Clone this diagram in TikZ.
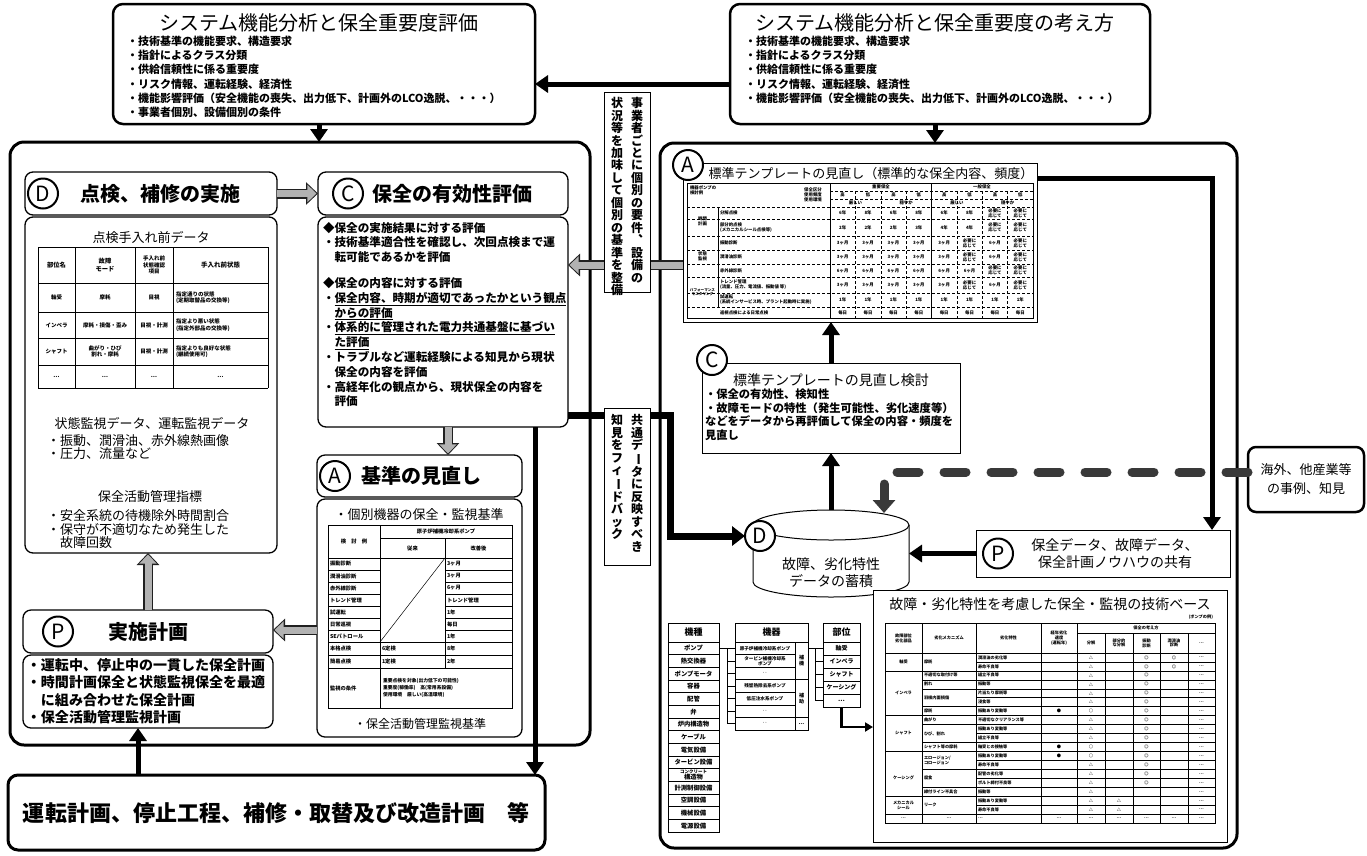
\documentclass[tikz,border=0pt]{standalone}
\usepackage{fontspec}
\usepackage{graphicx}
\setmainfont{Noto Sans CJK JP}
\usetikzlibrary{arrows.meta}
\newcommand\fs[2]{\fontsize{#1}{#2}\selectfont}
\makeatletter
\newcommand\vtxt[1]{\vbox{\offinterlineskip\@tfor\vch:=#1\do{\hbox to 1em{\hss\vrule height .88em depth .12em width 0pt\vch\hss}\kern .04em}}}
\makeatother
\newcommand\vlong{\rotatebox[origin=c]{-90}{ー}}
\newcommand\vcom{︑}
\newcommand\hy{必要に\\応じて}
\begin{document}
\begin{tikzpicture}[x=1pt,y=-1pt,
  every node/.style={inner sep=0pt,outer sep=0pt},
  panel/.style={draw,line width=3pt,rounded corners=14pt},
  rbox/.style={draw,line width=1.3pt,rounded corners=8pt,fill=white},
  sbox/.style={draw,line width=0.8pt,fill=white},
  circ/.style={circle,draw,line width=2pt,fill=white,minimum size=30pt,font=\fs{21}{21}},
  blk/.style={line width=5pt,-{Triangle[width=17pt,length=13pt]}},
  gry/.style={line width=7pt,draw=gray!60,shorten >=1.6pt,-{Triangle[width=17pt,length=9pt]},
    preaction={draw=gray!25!black,line width=10pt,shorten >=0pt,-{Triangle[width=22pt,length=12pt]}}},
  tb/.style={line width=0.5pt},
  hd/.style={font=\bfseries\fs{20}{20}},
  vt/.style={anchor=north,font=\bfseries\fs{12}{12}},
  dtc/.style={font=\bfseries\fs{5.5}{6.5},align=center},
  atc/.style={font=\bfseries\fs{5.3}{6.3},align=center},
  ttc/.style={font=\bfseries\fs{4.4}{5},align=center},
  kc/.style={font=\bfseries\fs{4.2}{4.8},align=center}
]
\useasboundingbox (0,0) rectangle (1367,855);
\fill[white] (0,0) rectangle (1367,855);

% ---------- panels
\node[panel,minimum width=580pt,minimum height=603pt,anchor=north west] (lp) at (10,142) {};
\node[panel,minimum width=577pt,minimum height=705pt,anchor=north west] (rp) at (660,143) {};

% ---------- top boxes
\node[rbox,line width=2.5pt,rounded corners=10pt,minimum width=422pt,minimum height=120pt,anchor=north west] (tl) at (113,4) {};
\node[font=\fs{20}{20}] (tlt) at (319,23) {システム機能分析と保全重要度評価};
\node[anchor=north west,align=left,font=\bfseries\fs{11}{14.2}] (tlb) at (127,36) {・技術基準の機能要求、構造要求\\・指針によるクラス分類\\・供給信頼性に係る重要度\\・リスク情報、運転経験、経済性\\・機能影響評価（安全機能の喪失、出力低下、計画外のLCO逸脱、・・・）\\・事業者個別、設備個別の条件};

\node[rbox,line width=2.5pt,rounded corners=10pt,minimum width=420pt,minimum height=120pt,anchor=north west] (tr) at (730,4) {};
\node[font=\fs{20}{20}] (trt) at (935,23) {システム機能分析と保全重要度の考え方};
\node[anchor=north west,align=left,font=\bfseries\fs{11}{14.2}] (trb) at (745,36) {・技術基準の機能要求、構造要求\\・指針によるクラス分類\\・供給信頼性に係る重要度\\・リスク情報、運転経験、経済性\\・機能影響評価（安全機能の喪失、出力低下、計画外のLCO逸脱、・・・）};

\draw[blk] ([yshift=-20pt]tr.west) -- ([yshift=-20pt]tl.east);
\draw[blk] ([xshift=-5pt]tl.south) -- ([xshift=-5pt]tl.south |- lp.north);
\draw[blk] ([xshift=-5pt]tr.south) -- ([xshift=-5pt]tr.south |- rp.north);

% ---------- D box
\node[rbox,minimum width=252pt,minimum height=43pt,anchor=north west] (dh) at (25,172) {};
\node[circ] (cD) at (43,193.5) {D};
\node[hd] (dht) at (160,193.5) {点検、補修の実施};
\node[rbox,minimum width=252pt,minimum height=336pt,anchor=north west] (dc) at (25,217) {};
\node[font=\fs{13}{13}] (dct1) at (151,238) {点検手入れ前データ};
\foreach \yy in {247,283,312,338,365,388} \draw[tb] (38,\yy) -- (268,\yy);
\foreach \xx in {38,75,135,173,268} \draw[tb] (\xx,247) -- (\xx,388);
\node[dtc,font=\bfseries\fs{6.3}{7.5}] (d11) at (56.5,265) {部位名};
\node[dtc,font=\bfseries\fs{6.3}{7.5}] (d12) at (105,265) {故障\\モード};
\node[dtc] (d13) at (154,265) {手入れ前\\状態確認\\項目};
\node[dtc,font=\bfseries\fs{6.5}{7.5}] (d14) at (220.5,265) {手入れ前状態};
\node[dtc] (d21) at (56.5,297.5) {軸受};
\node[dtc] (d22) at (105,297.5) {摩耗};
\node[dtc] (d23) at (154,297.5) {目視};
\node[dtc,align=left,anchor=west] (d24) at (176,297.5) {指定通りの状態\\(定期取替品の交換等)};
\node[dtc] (d31) at (56.5,325) {インペラ};
\node[dtc] (d32) at (105,325) {摩耗・損傷・歪み};
\node[dtc] (d33) at (154,325) {目視・計測};
\node[dtc,align=left,anchor=west] (d34) at (176,325) {指定より悪い状態\\(指定外部品の交換等)};
\node[dtc] (d41) at (56.5,351.5) {シャフト};
\node[dtc] (d42) at (105,351.5) {曲がり・ひび\\割れ・摩耗};
\node[dtc] (d43) at (154,351.5) {目視・計測};
\node[dtc,align=left,anchor=west] (d44) at (176,351.5) {指定よりも良好な状態\\(継続使用可)};
\foreach \xx [count=\i] in {56.5,105,154,220.5} \node[dtc] (d5\i) at (\xx,376.5) {…};
\node[font=\fs{13}{13}] (dct2) at (152,423) {状態監視データ、運転監視データ};
\node[anchor=north west,align=left,font=\fs{13}{13}] (dct3) at (47,435) {・振動、潤滑油、赤外線熱画像\\・圧力、流量など};
\node[font=\fs{13}{13}] (dct4) at (150,497) {保全活動管理指標};
\node[anchor=north west,align=left,font=\fs{13}{13.5}] (dct5) at (47,510) {・安全系統の待機除外時間割合\\・保守が不適切なため発生した\\　故障回数};

% ---------- C box
\node[rbox,minimum width=250pt,minimum height=43pt,anchor=north west] (ch) at (318,172) {};
\node[circ] (cC) at (348,193.5) {C};
\node[hd] (cht) at (452,193.5) {保全の有効性評価};
\node[rbox,minimum width=250pt,minimum height=210pt,anchor=north west] (cc) at (318,217) {};
\node[anchor=north west,align=left,font=\bfseries\fs{11.6}{14.8}] (cct) at (323,222) {◆保全の実施結果に対する評価\\・技術基準適合性を確認し、次回点検まで運\\　転可能であるかを評価\\[11pt]◆保全の内容に対する評価\\・\underline{保全内容、時期が適切であったかという観点}\\　\underline{からの評価}\\・\underline{体系的に管理された電力共通基盤に基づい}\\　\underline{た評価}\\・トラブルなど運転経験による知見から現状\\　保全の内容を評価\\・高経年化の観点から、現状保全の内容を\\　評価};

% ---------- A box (left)
\node[rbox,minimum width=205pt,minimum height=42pt,anchor=north west] (ah) at (317,455) {};
\node[circ] (cA) at (335,476) {A};
\node[hd] (aht) at (421,476) {基準の見直し};
\node[rbox,minimum width=205pt,minimum height=238pt,anchor=north west] (ac) at (317,499) {};
\node[font=\fs{13}{13}] (act1) at (419,515) {・個別機器の保全・監視基準};
\draw[tb] (328,525) rectangle (512,708);
\draw[tb] (380,525) -- (380,708);
\draw[tb] (445,538) -- (445,668);
\draw[tb] (380,538) -- (512,538);
\draw[tb] (328,558) -- (512,558);
\foreach \yy in {570,582,594,606,618,630} {\draw[tb] (328,\yy) -- (380,\yy); \draw[tb] (445,\yy) -- (512,\yy);}
\foreach \yy in {642,655,668} \draw[tb] (328,\yy) -- (512,\yy);
\draw[tb] (380,642) -- (445,558);
\node[atc] (a01) at (354,541.5) {検　討　例};
\node[atc] (a02) at (446,531.5) {原子炉補機冷却系ポンプ};
\node[atc] (a03) at (412.5,548) {従来};
\node[atc] (a04) at (478.5,548) {改善後};
\foreach \lab/\val [count=\i] in {振動診断/3ヶ月,潤滑油診断/3ヶ月,赤外線診断/6ヶ月,トレンド管理/トレンド管理,試運転/1年,日常巡視/毎日,SEパトロール/1年} {
  \node[atc,anchor=west] (al\i) at (330,{558+(\i-.5)*12}) {\lab};
  \node[atc,anchor=west] (av\i) at (447,{558+(\i-.5)*12}) {\val};
}
\node[atc,anchor=west] (al8) at (330,648.5) {本格点検};
\node[atc,anchor=west] (aw8) at (382,648.5) {6定検};
\node[atc,anchor=west] (av8) at (447,648.5) {8年};
\node[atc,anchor=west] (al9) at (330,661.5) {簡易点検};
\node[atc,anchor=west] (aw9) at (382,661.5) {1定検};
\node[atc,anchor=west] (av9) at (447,661.5) {2年};
\node[atc,anchor=west] (al10) at (330,688) {監視の条件};
\node[atc,anchor=west,align=left,font=\bfseries\fs{4.8}{7}] (av10) at (383,688) {重要点検を対象(出力低下の可能性)\\重要度(稼働率)　高(常用系設備)\\使用環境　厳しい(高温環境)};
\node[font=\fs{12}{12}] (act2) at (420,724) {・保全活動管理監視基準};

% ---------- P box (left)
\node[rbox,minimum width=250pt,minimum height=43pt,anchor=north west] (ph) at (23,610) {};
\node[circ] (cP) at (58,631.5) {P};
\node[hd] (pht) at (148,631.5) {実施計画};
\node[rbox,minimum width=250pt,minimum height=73pt,anchor=north west] (pc) at (23,655) {};
\node[anchor=north west,align=left,font=\bfseries\fs{14}{17.5}] (pct) at (27,658) {・運転中、停止中の一貫した保全計画\\・時間計画保全と状態監視保全を最適\\　に組み合わせた保全計画\\・保全活動管理監視計画};

% gray arrows (left)
\draw[gry] (dh.east) -- (ch.west);
\draw[gry] ([xshift=5pt]cc.south) -- ([xshift=28.5pt]ah.north);
\draw[gry] ([yshift=-12pt]ac.west) -- ([yshift=1.5pt]ph.east);
\draw[gry] (ph.north) -- (ph.north |- dc.south);

% ---------- bottom box
\node[rbox,line width=3pt,rounded corners=10pt,minimum width=537pt,minimum height=75pt,anchor=north west] (bb) at (8,775) {};
\node[font=\bfseries\fs{22}{22}] (bbt) at (276,813) {運転計画、停止工程、補修・取替及び改造計画　等};
\draw[blk] ([xshift=-138.5pt]bb.north) -- ([xshift=-10pt]pc.south);
\draw[blk] ([xshift=92pt]cc.south) -- ([xshift=258.5pt]bb.north);

% ---------- right: template A
\node[sbox,minimum width=354pt,minimum height=159pt,anchor=north west] (ra) at (683,163) {};
\node[font=\fs{13}{13}] (rat) at (871,174) {標準テンプレートの見直し（標準的な保全内容、頻度）};
\node[circ] (rA) at (688,165) {A};
\draw[tb] (687,183) rectangle (1033,318);
\foreach \yy in {207,219,236,250,264,277,293,307} \draw[tb,densely dashed] (687,\yy) -- (1033,\yy);
\draw[line width=0.8pt] (830,183) -- (830,318);
\draw[line width=0.8pt] (931.5,183) -- (931.5,318);
\draw[tb] (718,207) -- (718,307);
\foreach \i in {1,2,3,5,6,7} \draw[tb,densely dashed] ({830+25.375*\i},191) -- ({830+25.375*\i},318);
\draw[tb,densely dashed] (830,191) -- (1033,191);
\draw[tb,densely dashed] (830,199) -- (1033,199);
\node[ttc,anchor=north west,align=left] (tt01) at (690,186) {機器ポンプの\\検討例};
\node[ttc,align=left] (tt02) at (813,195) {保全区分\\使用頻度\\使用環境};
\node[ttc] (tt03) at (881,187) {重要保全};
\node[ttc] (tt04) at (982,187) {一般保全};
\foreach \i in {1,...,8} {\pgfmathsetmacro\hl{mod(\i,2)==1?1:0}
  \node[ttc] (tth\i) at ({830+25.375*(\i-.5)},195) {\ifnum\hl=1 高\else 低\fi};}
\node[ttc] (tt05) at (855.4,203) {厳しい};
\node[ttc] (tt06) at (906.1,203) {穏やか};
\node[ttc] (tt07) at (956.9,203) {厳しい};
\node[ttc] (tt08) at (1007.6,203) {穏やか};
\node[ttc] (tt09) at (702.5,221.5) {時間\\計画};
\node[ttc] (tt10) at (702.5,256.5) {状態\\監視};
\node[ttc,font=\bfseries\fs{3.6}{4.2}] (tt11) at (702.5,292) {パフォーマンス\\モニタリング};
\foreach \lab/\yy [count=\i] in {分解点検/213,{部分的点検\\(メカニカルシール点検等)}/227.5,振動診断/243,潤滑油診断/257,赤外線診断/270.5,{トレンド管理\\(流量、圧力、電流値、振動値 等)}/285,{試運転\\(系統インサービス時、プラント起動時に実施)}/300,巡視点検による日常点検/312.5}
  \node[ttc,anchor=west,align=left] (ttl\i) at (720,\yy) {\lab};
\foreach \v [count=\i] in {6年,8年,6年,8年,6年,8年,\hy,\hy} \node[ttc] (ta\i) at ({830+25.375*(\i-.5)},213) {\v};
\foreach \v [count=\i] in {2年,2年,2年,3年,4年,4年,\hy,\hy} \node[ttc] (tb\i) at ({830+25.375*(\i-.5)},227.5) {\v};
\foreach \v [count=\i] in {3ヶ月,3ヶ月,3ヶ月,3ヶ月,3ヶ月,\hy,6ヶ月,\hy} \node[ttc] (tc\i) at ({830+25.375*(\i-.5)},243) {\v};
\foreach \v [count=\i] in {3ヶ月,3ヶ月,3ヶ月,3ヶ月,3ヶ月,\hy,6ヶ月,\hy} \node[ttc] (td\i) at ({830+25.375*(\i-.5)},257) {\v};
\foreach \v [count=\i] in {6ヶ月,6ヶ月,6ヶ月,6ヶ月,6ヶ月,6ヶ月,\hy,\hy} \node[ttc] (te\i) at ({830+25.375*(\i-.5)},270.5) {\v};
\foreach \v [count=\i] in {3ヶ月,3ヶ月,3ヶ月,3ヶ月,3ヶ月,\hy,6ヶ月,\hy} \node[ttc] (tf\i) at ({830+25.375*(\i-.5)},285) {\v};
\foreach \i in {1,...,8} \node[ttc] (tg\i) at ({830+25.375*(\i-.5)},300) {1年};
\foreach \i in {1,...,8} \node[ttc] (th\i) at ({830+25.375*(\i-.5)},312.5) {毎日};

% gray arrow A -> C(left)
\draw[gry] ([yshift=-22.5pt]ra.west) -- ([yshift=57pt]cc.east);

% ---------- right: C box
\node[sbox,minimum width=258pt,minimum height=90pt,anchor=north west] (rc) at (702,363) {};
\node[circ] (rC) at (712,360) {C};
\node[font=\fs{14}{14}] (rct) at (831,380) {標準テンプレートの見直し検討};
\node[anchor=north west,align=left,font=\bfseries\fs{11.3}{13.5}] (rcb) at (705,389) {・保全の有効性、検知性\\・故障モードの特性（発生可能性、劣化速度等）\\などをデータから再評価して保全の内容・頻度を\\見直し};
\draw[blk] (rc.north) -- (rc.north |- ra.south);

% ---------- cylinder D
\coordinate (cyltop) at (831,510);
\coordinate (cylr) at (909,553.5);
\coordinate (cyld) at (884,513);
\fill[white] (753,525) -- (753,582) arc[start angle=180,end angle=360,x radius=78pt,y radius=15pt] -- (909,525) -- cycle;
\draw[line width=1pt] (753,525) -- (753,582) arc[start angle=180,end angle=360,x radius=78pt,y radius=15pt] -- (909,525);
\draw[line width=1pt,fill=white] (831,525) ellipse[x radius=78pt,y radius=15pt];
\node[align=center,font=\fs{14}{17}] (cyl) at (831,573) {故障、劣化特性\\データの蓄積};
\node[circ] (rD) at (760,536) {D};
\draw[blk] (cyltop) -- (rc.south);

% ---------- right: P box
\node[sbox,minimum width=254pt,minimum height=47pt,anchor=north west] (prb) at (976,530) {};
\node[circ] (rP) at (998,553.5) {P};
\node[align=center,font=\fs{14}{17}] (prt) at (1115,553.5) {保全データ、故障データ、\\保全計画ノウハウの共有};
\draw[blk] (prb.west) -- (cylr);

% ---------- 海外 box
\node[rbox,line width=2.5pt,minimum width=116pt,minimum height=65pt,anchor=north west] (kb) at (1248,447) {};
\node[align=center,font=\fs{13}{19}] (kbt) at (1306,479.5) {海外、他産業等\\の事例、知見};

% thick arrow A -> P
\draw[blk] ([yshift=64.5pt]ra.east) -| ([xshift=109pt]prb.north);

% dashed from 海外
\coordinate (dend) at (884,497);
\draw[line width=9pt,gray!45!black,line cap=round,dash pattern=on 22pt off 25pt] ([yshift=7.5pt]kb.west) -| (dend);
\draw[line width=9pt,gray!45!black,-{Triangle[width=22pt,length=13pt]}] (dend) -- (cyld);

% feedback line
\coordinate (fb1) at (670,536);
\draw[line width=7pt,-{Triangle[width=19pt,length=13pt]}] ([yshift=-93pt]cc.east) -| (fb1) -- (rD.west);

% ---------- vertical text boxes
\node[sbox,minimum width=46pt,minimum height=200pt,anchor=north west] (vb1) at (604,92) {};
\node[vt] (v1r) at (637,97) {\vtxt{事業者ごとに個別の要件\vcom 設備の}};
\node[vt] (v1l) at (617,97) {\vtxt{状況等を加味して個別の基準を整備}};
\node[sbox,minimum width=46pt,minimum height=157pt,anchor=north west] (vb2) at (604,408) {};
\node[vt] (v2r) at (637,414) {\vtxt{共通デ\vlong タに反映すべき}};
\node[vt] (v2l) at (617,414) {\vtxt{知見をフィ\vlong ドバック}};

% ---------- 技術ベース box
\node[sbox,minimum width=354pt,minimum height=252pt,anchor=north west] (tk) at (873,590) {};
\node[font=\fs{14}{14}] (tkt) at (1050,604) {故障・劣化特性を考慮した保全・監視の技術ベース};
\node[kc,anchor=east] (tks) at (1213,617) {(ポンプの例)};
\draw[tb] (885,623) rectangle (1215,823);
\foreach \xx in {922,976,1041,1077} \draw[tb] (\xx,623) -- (\xx,823);
\foreach \xx in {1105,1133,1160,1188} \draw[tb] (\xx,633) -- (\xx,823);
\draw[tb] (1077,633) -- (1215,633);
\draw[line width=0.8pt] (885,653) -- (1215,653);
\foreach \i in {1,...,18} \draw[tb] (976,{653+\i*8.947}) -- (1215,{653+\i*8.947});
\foreach \i in {2,3,4,6,7,8,10,11,13,15,16,18} \draw[tb] (922,{653+\i*8.947}) -- (976,{653+\i*8.947});
\foreach \i in {2,7,11,16,18} \draw[tb] (885,{653+\i*8.947}) -- (922,{653+\i*8.947});
\node[kc] (kh1) at (903.5,638) {故障部位\\劣化部品};
\node[kc] (kh2) at (949,638) {劣化メカニズム};
\node[kc] (kh3) at (1008.5,638) {劣化特性};
\node[kc] (kh4) at (1059,638) {経年劣化\\速度\\(運転年)};
\node[kc] (kh5) at (1146,628) {保全の考え方};
\node[kc] (kh6) at (1091,643) {分解};
\node[kc] (kh7) at (1119,643) {部分的\\な分解};
\node[kc] (kh8) at (1146.5,643) {振動\\診断};
\node[kc] (kh9) at (1174,643) {潤滑油\\診断};
\node[kc] (kh10) at (1201.5,643) {…};
\foreach \i/\t/\a/\b/\c/\d/\e in {1/潤滑油の劣化等//△//◎/◎,2/寿命不良等//△//◎/◎,3/組立不良等//△//◎/,4/振動等//△//◎/,5/片当たり摩耗等//△//◎/,6/浸食等//△//◎/,7/振動あり変動等/●/○//◎/,8/不適切なクリアランス等//△//◎/,9/振動あり変動等//△//◎/,10/組立不良等//△//◎/,11/軸受との接触等/●/○//◎/,12/振動あり変動等/●/○//◎/,13/寿命不良等//△//◎/,14/配管の劣化等//△//◎/,15/ボルト締付不良等//△//◎/,16/振動等//△///,17/振動あり変動等//△/△//,18/寿命不良等//△/△//,19/…/…/…/…/…/…} {
  \node[kc,anchor=west] (kt\i) at (978,{653+(\i-.5)*8.947}) {\t};
  \node[kc] (ka\i) at (1059,{653+(\i-.5)*8.947}) {\a};
  \node[kc] (kb\i) at (1091,{653+(\i-.5)*8.947}) {\b};
  \node[kc] (kcc\i) at (1119,{653+(\i-.5)*8.947}) {\c};
  \node[kc] (kd\i) at (1146.5,{653+(\i-.5)*8.947}) {\d};
  \node[kc] (ke\i) at (1174,{653+(\i-.5)*8.947}) {\e};
  \node[kc] (kf\i) at (1201.5,{653+(\i-.5)*8.947}) {…};
}
\foreach \t/\r [count=\i] in {軸受/1,インペラ/4.5,シャフト/9,ケーシング/14,{メカニカル\\シール}/17,…/18.5}
  \node[kc] (kp\i) at (903.5,{653+\r*8.947}) {\t};
\foreach \t/\r [count=\i] in {摩耗/1,不適切な取付け等/2.5,割れ/3.5,羽根内面損傷/5,摩耗/6.5,曲がり/7.5,ひび、割れ/9,シャフト等の摩耗/10.5,{エロージョン/\\コロージョン}/12,腐食/14,締付ライン不具合/15.5,リーク/17}
  \node[kc,anchor=west,align=left] (km\i) at (924,{653+\r*8.947}) {\t};
\node[kc] (km13) at (949,{653+18.5*8.947}) {…};

% ---------- 機種 / 機器 / 部位
\node[draw,line width=0.8pt,minimum width=51pt,minimum height=209pt,anchor=north west] (ksh) at (668,623) {};
\node[font=\bfseries\fs{9}{9}] (ksht) at (693.5,632.5) {機種};
\foreach \n [count=\i] in {ポンプ,熱交換器,ポンプモータ,容器,配管,弁,炉内構造物,ケーブル,電気設備,タービン設備,{\fs{4.5}{5}コンクリート\\構造物},計測制御設備,空調設備,機械設備,電源設備} {
  \draw[tb] (668,{642+(\i-1)*12.67}) -- (719,{642+(\i-1)*12.67});
  \node[font=\bfseries\fs{6.3}{6.3},align=center] (ks\i) at (693.5,{642+(\i-.5)*12.67}) {\n};
}
\node[draw,line width=0.8pt,minimum width=73pt,minimum height=107pt,anchor=north west] (kki) at (735,623) {};
\node[font=\bfseries\fs{9}{9}] (kkit) at (771.5,632.5) {機器};
\draw[tb] (735,642) -- (808,642);
\draw[tb] (795,642) -- (795,730);
\foreach \n [count=\i] in {原子炉補機冷却系ポンプ,{タービン補機冷却系\\ポンプ},‥,残留熱除去系ポンプ,低圧注水系ポンプ,‥,‥} {
  \draw[tb] (735,{642+(\i-1)*12.57}) -- (795,{642+(\i-1)*12.57});
  \node[font=\bfseries\fs{4.6}{5},align=center] (kk\i) at (765,{642+(\i-.5)*12.57}) {\n};
}
\draw[tb] (795,{642+3*12.57}) -- (808,{642+3*12.57});
\draw[tb] (795,{642+6*12.57}) -- (808,{642+6*12.57});
\node[font=\bfseries\fs{5}{6},align=center] (kks1) at (801.5,{642+1.5*12.57}) {補\\機};
\node[font=\bfseries\fs{5}{6},align=center] (kks2) at (801.5,{642+4.5*12.57}) {補\\助};
\node[font=\bfseries\fs{5}{6}] (kks3) at (801.5,{642+6.5*12.57}) {…};
\node[draw,line width=0.8pt,minimum width=37pt,minimum height=84pt,anchor=north west] (bui) at (823,623) {};
\node[font=\bfseries\fs{9}{9}] (buit) at (841.5,632.5) {部位};
\foreach \n [count=\i] in {軸受,インペラ,シャフト,ケーシング,…} {
  \draw[tb] (823,{642+(\i-1)*13}) -- (860,{642+(\i-1)*13});
  \node[font=\bfseries\fs{6}{6}] (bu\i) at (841.5,{642+(\i-.5)*13}) {\n};
}
\draw[line width=0.7pt] (719,648.3) -- (727,648.3) -- (727,{642+6.5*12.57});
\foreach \i in {1,...,7} \draw[line width=0.7pt] (727,{642+(\i-.5)*12.57}) -- (735,{642+(\i-.5)*12.57});
\draw[line width=0.7pt] (808,648.3) -- (815,648.3) -- (815,{642+4.5*13});
\foreach \i in {1,...,5} \draw[line width=0.7pt] (815,{642+(\i-.5)*13}) -- (823,{642+(\i-.5)*13});
\draw[line width=2.5pt,-{Triangle[width=9pt,length=8pt]}] (bui.south) |- ([yshift=-11pt]tk.west);

\end{tikzpicture}
\end{document}
